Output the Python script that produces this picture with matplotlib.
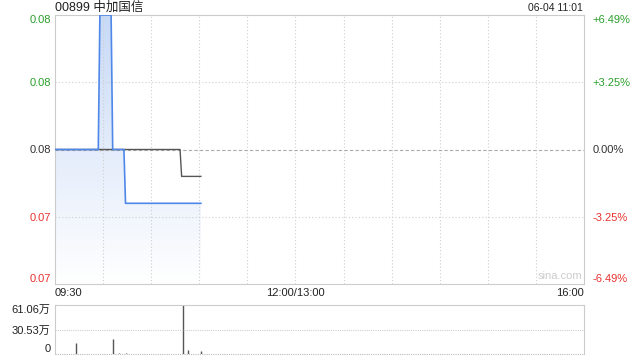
import matplotlib
matplotlib.use("Agg")
import matplotlib.pyplot as plt
import numpy as np
from matplotlib.colors import LinearSegmentedColormap
from matplotlib.patches import Polygon

plt.rcParams['font.family'] = ['Liberation Sans', 'Noto Sans CJK SC', 'DejaVu Sans']

# ---- data ----
title = "00899 中加国信"
stamp = "06-04 11:01"
prev_close = 0.077
price_range = 0.005
# minutes since 09:30 (lunch break compressed)
price_t = [0, 27, 28, 35, 36, 43, 44, 91]
price_v = [0.077, 0.077, 0.082, 0.082, 0.077, 0.077, 0.075, 0.075]
avg_t = [0, 78, 79, 91]
avg_v = [0.077, 0.077, 0.076, 0.076]
vol_t = [13, 36, 40, 44, 80, 83, 91]
vol_v = [140000, 189000, 16000, 16000, 610600, 53000, 41000]
vol_max = 610600
vol_tick_labels = ["0", "30.53万", "61.06万"]
x_tick_pos = [0, 150, 330]
x_tick_labels = ["09:30", "12:00/13:00", "16:00"]
pct_labels = ["+6.49%", "+3.25%", "0.00%", "-3.25%", "-6.49%"]

GREEN = '#2a9f2a'
RED = '#e8332f'
GRID = '#cfcfcf'
BLUE = '#4f88e8'

fig = plt.figure(figsize=(6.4, 3.6), dpi=100)
ax = fig.add_axes([55/640, 1-284/360, 529/640, 269/360])
axv = fig.add_axes([55/640, 1-354/360, 529/640, 49/360])

top = prev_close + price_range
bot = prev_close - price_range
ax.set_xlim(0, 330)
ax.set_ylim(bot, top)

# gradient fill under price line
cmap = LinearSegmentedColormap.from_list('g', ['#ffffff', '#c8daf7'])
grad = np.linspace(0, 1, 256).reshape(-1, 1)
im = ax.imshow(grad, extent=[0, 330, bot, top], origin='lower', aspect='auto',
               cmap=cmap, zorder=1)
poly_xy = list(zip(price_t, price_v)) + [(price_t[-1], bot), (price_t[0], bot)]
poly = Polygon(poly_xy, closed=True, facecolor='none', edgecolor='none')
ax.add_patch(poly)
im.set_clip_path(poly)

ax.plot(price_t, price_v, color=BLUE, lw=1.2, zorder=4)
ax.plot(avg_t, avg_v, color='#555555', lw=1.0, zorder=3)

# grid
for m in range(30, 330, 30):
    ax.axvline(m, color=GRID, lw=0.8, ls=(0, (1, 2)), zorder=2)
yt = [top, prev_close + price_range/2, prev_close, prev_close - price_range/2, bot]
ax.axhline(yt[1], color=GRID, lw=0.8, ls=(0, (1, 2)), zorder=2)
ax.axhline(yt[3], color=GRID, lw=0.8, ls=(0, (1, 2)), zorder=2)
ax.axhline(prev_close, color='#aaaaaa', lw=0.8, ls=(0, (3, 2)), zorder=2)

for s in ax.spines.values():
    s.set_color('#cccccc')
    s.set_linewidth(0.8)

ax.set_yticks(yt)
ax.set_yticklabels(['%.2f' % v for v in yt])
ax.tick_params(axis='y', length=0, pad=3, labelsize=8)
cols = [GREEN, GREEN, '#333333', RED, RED]
labs = ax.get_yticklabels()
for lab, c in zip(labs, cols):
    lab.set_color(c)
labs[0].set_va('top')
labs[-1].set_va('bottom')

ax2 = ax.twinx()
ax2.set_ylim(bot, top)
ax2.set_yticks(yt)
ax2.set_yticklabels(pct_labels)
ax2.tick_params(axis='y', length=0, pad=6, labelsize=8)
labs2 = ax2.get_yticklabels()
for lab, c in zip(labs2, cols):
    lab.set_color(c)
labs2[0].set_va('top')
labs2[-1].set_va('bottom')
for s in ax2.spines.values():
    s.set_visible(False)

ax.set_xticks(x_tick_pos)
ax.set_xticklabels(x_tick_labels)
ax.tick_params(axis='x', length=0, pad=3, labelsize=8, colors='#222222')
xl = ax.get_xticklabels()
xl[0].set_ha('left')
xl[-1].set_ha('right')

ax.text(0.955, 0.012, 'sina.com', transform=ax.transAxes, ha='center', va='bottom',
        color='#cccccc', fontsize=8, zorder=5)

fig.text(55/640, 1-8/360, title, ha='left', va='center', fontsize=9, color='#222222')
fig.text(583/640, 1-8/360, stamp, ha='right', va='center', fontsize=7.5, color='#222222')

# volume panel
axv.set_xlim(0, 330)
axv.set_ylim(0, vol_max)
axv.vlines(vol_t, 0, vol_v, color='#555555', lw=1.0)
axv.axhline(vol_max/2, color=GRID, lw=0.8, ls=(0, (1, 1)))
axv.axhline(0, color='#bbbbbb', lw=0.8, ls=(0, (1, 1)), clip_on=False)
axv.set_xticks([])
axv.set_yticks([0, vol_max/2, vol_max])
axv.set_yticklabels(vol_tick_labels)
axv.tick_params(axis='y', length=0, pad=3, labelsize=8, colors='#222222')
vl = axv.get_yticklabels()
vl[0].set_va('bottom')
vl[-1].set_va('top')
for k, s in axv.spines.items():
    s.set_color('#cccccc')
    s.set_linewidth(0.8)
axv.spines['top'].set_linestyle((0, (1, 1)))
axv.spines['bottom'].set_visible(False)

fig.savefig('out.png', dpi=100)
